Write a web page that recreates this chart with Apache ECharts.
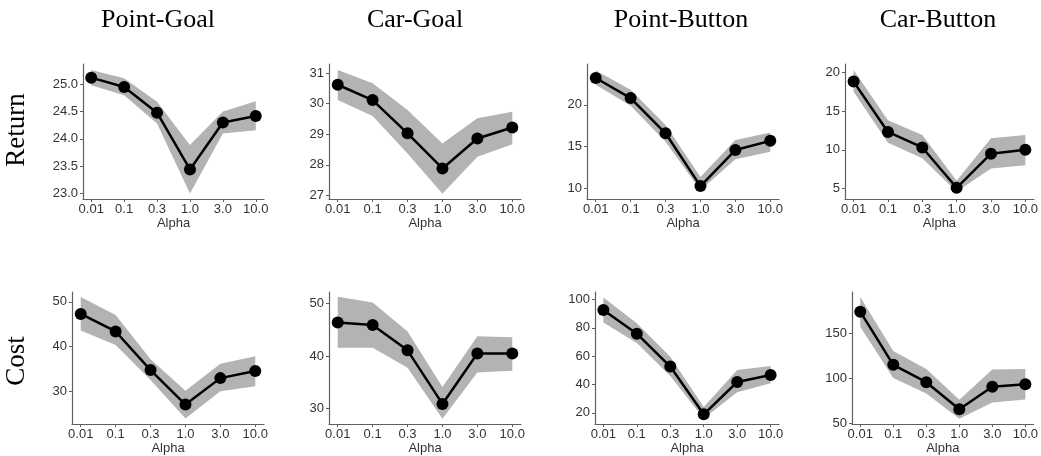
<!DOCTYPE html>
<html>
<head>
<meta charset="utf-8">
<script src="https://cdn.jsdelivr.net/npm/echarts@6/dist/echarts.min.js"></script>
<style>
  html, body { margin: 0; padding: 0; background: #fff; }
  #chart { width: 1041px; height: 456px; }
</style>
</head>
<body>
<div id="chart"></div>
<script>
// Alpha values on the x axis (evenly spaced categories)
const alphaLabels = ['0.01', '0.1', '0.3', '1.0', '3.0', '10.0'];
const envNames = ['Point-Goal', 'Car-Goal', 'Point-Button', 'Car-Button'];
const rowNames = ['Return', 'Cost'];

// Return: mean and shaded band (lower / upper)
const pointGoalReturn   = [25.12, 24.95, 24.48, 23.44, 24.30, 24.42];
const pointGoalReturnLo = [24.98, 24.80, 24.28, 23.00, 24.10, 24.16];
const pointGoalReturnHi = [25.26, 25.11, 24.68, 23.89, 24.50, 24.69];

const carGoalReturn   = [30.62, 30.12, 29.03, 27.88, 28.86, 29.22];
const carGoalReturnLo = [30.12, 29.60, 28.37, 27.05, 28.26, 28.67];
const carGoalReturnHi = [31.10, 30.67, 29.79, 28.70, 29.52, 29.74];

const pointButtonReturn   = [23.2, 20.8, 16.6, 10.3, 14.6, 15.7];
const pointButtonReturnLo = [22.4, 19.9, 15.6, 9.8, 13.5, 14.4];
const pointButtonReturnHi = [24.1, 21.8, 17.6, 11.4, 15.8, 16.7];

const carButtonReturn   = [18.8, 12.3, 10.3, 5.1, 9.5, 10.0];
const carButtonReturnLo = [17.5, 10.9, 8.9, 4.6, 7.6, 8.0];
const carButtonReturnHi = [20.3, 13.8, 11.9, 6.0, 11.5, 11.9];

// Cost: mean and shaded band (lower / upper)
const pointGoalCost   = [47.3, 43.4, 34.8, 27.1, 33.0, 34.6];
const pointGoalCostLo = [43.6, 40.4, 32.6, 24.0, 30.1, 31.2];
const pointGoalCostHi = [51.1, 47.1, 37.2, 30.2, 36.2, 37.9];

const carGoalCost   = [46.4, 45.9, 41.1, 30.9, 40.5, 40.5];
const carGoalCostLo = [41.6, 41.6, 37.8, 28.1, 36.9, 37.2];
const carGoalCostHi = [51.3, 50.2, 44.7, 34.1, 43.8, 43.6];

const pointButtonCost   = [92.6, 75.9, 52.7, 19.0, 41.8, 46.7];
const pointButtonCostLo = [83.7, 69.3, 46.1, 16.0, 34.5, 40.9];
const pointButtonCostHi = [101.4, 83.2, 59.6, 24.1, 50.3, 53.1];

const carButtonCost   = [173.6, 114.8, 95.6, 65.6, 90.6, 93.4];
const carButtonCostLo = [157.0, 100.3, 83.0, 55.0, 73.1, 76.5];
const carButtonCostHi = [190.0, 130.0, 110.2, 76.2, 109.5, 110.2];

// Y tick values per panel
const ticksPGR = [23.0, 23.5, 24.0, 24.5, 25.0];
const ticksCGR = [27, 28, 29, 30, 31];
const ticksPBR = [10, 15, 20];
const ticksCBR = [5, 10, 15, 20];
const ticksPGC = [30, 40, 50];
const ticksCGC = [30, 40, 50];
const ticksPBC = [20, 40, 60, 80, 100];
const ticksCBC = [50, 100, 150];

// Panel layout: grid box, y range and data references
const panels = [
  { grid: [83, 64, 181, 135],  y: [22.9, 25.37], ticks: ticksPGR, dec: 1, mean: pointGoalReturn,   lo: pointGoalReturnLo,   hi: pointGoalReturnHi },
  { grid: [329, 64, 192, 135], y: [26.88, 31.3], ticks: ticksCGR, dec: 0, mean: carGoalReturn,     lo: carGoalReturnLo,     hi: carGoalReturnHi },
  { grid: [587, 64, 192, 135], y: [8.76, 24.87], ticks: ticksPBR, dec: 0, mean: pointButtonReturn, lo: pointButtonReturnLo, hi: pointButtonReturnHi },
  { grid: [845, 64, 191, 135], y: [3.65, 21.07], ticks: ticksCBR, dec: 0, mean: carButtonReturn,   lo: carButtonReturnLo,   hi: carButtonReturnHi },
  { grid: [72, 292, 192, 134], y: [22.75, 52.2], ticks: ticksPGC, dec: 0, mean: pointGoalCost,     lo: pointGoalCostLo,     hi: pointGoalCostHi },
  { grid: [329, 292, 192, 134], y: [27.06, 52.2], ticks: ticksCGC, dec: 0, mean: carGoalCost,     lo: carGoalCostLo,       hi: carGoalCostHi },
  { grid: [595, 292, 184, 134], y: [12.1, 105.3], ticks: ticksPBC, dec: 0, mean: pointButtonCost, lo: pointButtonCostLo,   hi: pointButtonCostHi },
  { grid: [852, 292, 185, 134], y: [49.2, 195.4], ticks: ticksCBC, dec: 0, mean: carButtonCost,   lo: carButtonCostLo,     hi: carButtonCostHi }
];

const titleCenters = [158, 415, 681, 938];
const rowCenters = [130, 361];

const axisGray = '#5f5f5f';
const tickFont = { fontFamily: 'Liberation Sans, Arial, sans-serif', fontSize: 13, color: '#333' };
const xIdx = alphaLabels.map((_, i) => i);

const grids = [], xAxes = [], yAxes = [], series = [];

panels.forEach((p, k) => {
  grids.push({ left: p.grid[0], top: p.grid[1], width: p.grid[2], height: p.grid[3], containLabel: false });

  xAxes.push({
    gridIndex: k, type: 'value', min: -0.25, max: 5.25,
    splitLine: { show: false },
    axisLine: { show: true, onZero: false, lineStyle: { color: axisGray, width: 1.2 } },
    axisTick: { show: true, length: 3, customValues: xIdx, lineStyle: { color: axisGray } },
    axisLabel: Object.assign({ margin: 4, customValues: xIdx, formatter: v => alphaLabels[Math.round(v)] }, tickFont),
    name: 'Alpha', nameLocation: 'middle', nameGap: 17,
    nameTextStyle: { fontFamily: 'Liberation Sans, Arial, sans-serif', fontSize: 13, color: '#333' }
  });

  yAxes.push({
    gridIndex: k, type: 'value', min: p.y[0], max: p.y[1],
    splitLine: { show: false },
    axisLine: { show: true, onZero: false, lineStyle: { color: axisGray, width: 1.2 } },
    axisTick: { show: true, length: 3, customValues: p.ticks, lineStyle: { color: axisGray } },
    axisLabel: Object.assign({ margin: 5, customValues: p.ticks, formatter: v => v.toFixed(p.dec) }, tickFont)
  });

  // shaded band between lower and upper bounds
  series.push({
    type: 'custom', xAxisIndex: k, yAxisIndex: k, silent: true, z: 1,
    encode: { x: 0, y: [1, 2] },
    data: p.lo.map((v, j) => [j, v, p.hi[j]]),
    renderItem: (params, api) => {
      if (params.dataIndex !== 0) return null;
      const pts = [];
      for (let j = 0; j < p.hi.length; j++) pts.push(api.coord([j, p.hi[j]]));
      for (let j = p.lo.length - 1; j >= 0; j--) pts.push(api.coord([j, p.lo[j]]));
      return { type: 'polygon', shape: { points: pts }, style: { fill: '#b3b3b3' } };
    }
  });

  // mean line with markers
  series.push({
    type: 'line', xAxisIndex: k, yAxisIndex: k, z: 3, silent: true,
    data: p.mean.map((v, j) => [j, v]),
    symbol: 'circle', symbolSize: 12,
    lineStyle: { color: '#000', width: 2.5 },
    itemStyle: { color: '#000' }
  });
});

const graphics = [];
envNames.forEach((name, i) => {
  graphics.push({
    type: 'text', x: titleCenters[i], y: 20,
    style: { text: name, font: '26px "Liberation Serif", "Times New Roman", serif', fill: '#000', align: 'center', verticalAlign: 'middle' }
  });
});
rowNames.forEach((name, i) => {
  graphics.push({
    type: 'text', x: 17, y: rowCenters[i], rotation: Math.PI / 2,
    style: { text: name, font: '27px "Liberation Serif", "Times New Roman", serif', fill: '#000', align: 'center', verticalAlign: 'middle' }
  });
});

const chart = echarts.init(document.getElementById('chart'), null, { renderer: 'canvas' });
chart.setOption({
  animation: false,
  backgroundColor: '#fff',
  grid: grids,
  xAxis: xAxes,
  yAxis: yAxes,
  series: series,
  graphic: graphics
});
</script>
</body>
</html>
